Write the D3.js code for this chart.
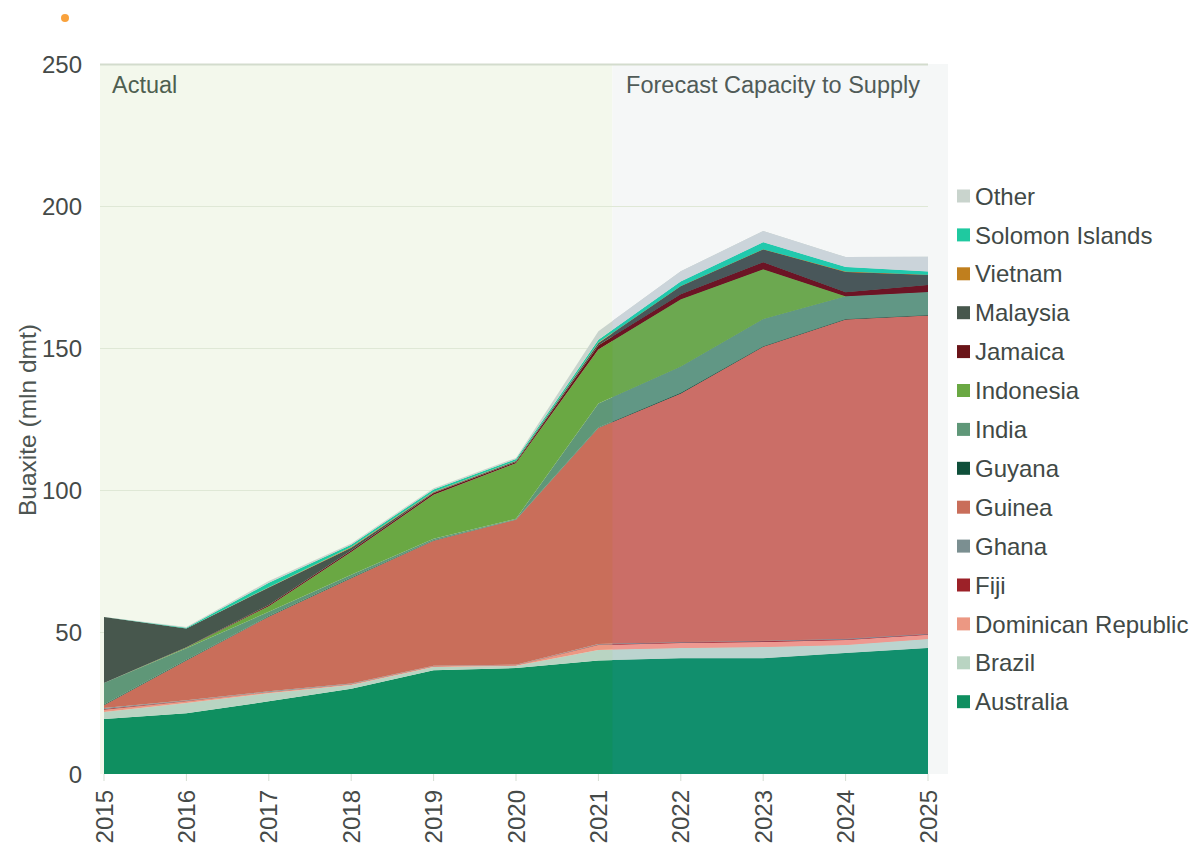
<!DOCTYPE html>
<html>
<head>
<meta charset="utf-8">
<script src="https://cdn.jsdelivr.net/npm/d3@7"></script>
<style>
  body { margin: 0; background: #fff; }
  svg { display: block; font-family: "Liberation Sans", Arial, sans-serif; }
</style>
</head>
<body>
<div id="chart"></div>
<script>
const years = [2015, 2016, 2017, 2018, 2019, 2020, 2021, 2022, 2023, 2024, 2025];

// stacked bottom to top
const australia = [19.4, 21.4, 25.6, 30.0, 36.5, 37.3, 40.0, 40.8, 40.8, 42.6, 44.4];
const brazil = [2.4, 3.6, 2.8, 1.3, 1.2, 0.8, 3.7, 3.6, 3.9, 2.8, 3.1];
const dominicanRepublic = [0.8, 0.6, 0.4, 0.3, 0.2, 0.2, 1.7, 1.7, 1.8, 1.8, 1.5];
const fiji = [0.3, 0.2, 0.1, 0.1, 0.1, 0.1, 0.2, 0.2, 0.2, 0.2, 0.2];
const ghana = [0.3, 0.2, 0.2, 0.2, 0.1, 0.1, 0.2, 0.2, 0.2, 0.2, 0.2];
const guinea = [1.0, 14.0, 26.3, 37.0, 44.0, 51.0, 76.0, 87.5, 103.5, 112.4, 112.0];
const guyana = [0.3, 0.2, 0.2, 0.3, 0.2, 0.1, 0.2, 0.2, 0.2, 0.2, 0.2];
const india = [7.5, 4.1, 1.5, 1.0, 0.5, 0.3, 8.5, 9.3, 9.6, 8.0, 8.1];
const indonesia = [0, 0.2, 2.0, 8.0, 15.5, 19.5, 19.0, 23.7, 17.5, 0, 0];
const jamaica = [0, 0.1, 0.4, 0.5, 0.6, 0.5, 1.5, 1.7, 2.5, 1.4, 2.5];
const malaysia = [23.3, 6.6, 6.2, 1.0, 0.3, 0.3, 0.8, 2.8, 4.5, 7.2, 3.5];
const vietnam = [0, 0, 0.1, 0.2, 0.2, 0.1, 0.1, 0.1, 0.1, 0.1, 0.1];
const solomonIslands = [0, 0.3, 1.5, 0.8, 0.8, 0.6, 1.0, 1.6, 2.4, 1.6, 1.1];
const other = [0, 0.3, 0.7, 0.5, 0.4, 0.4, 3.0, 3.6, 4.0, 3.5, 5.2];

const seriesNames = ['Australia', 'Brazil', 'Dominican Republic', 'Fiji', 'Ghana', 'Guinea',
  'Guyana', 'India', 'Indonesia', 'Jamaica', 'Malaysia', 'Vietnam', 'Solomon Islands', 'Other'];
const seriesValues = [australia, brazil, dominicanRepublic, fiji, ghana, guinea,
  guyana, india, indonesia, jamaica, malaysia, vietnam, solomonIslands, other];
const seriesColors = ['#0f8f60', '#b9d4c2', '#ec9883', '#9c2128', '#7b8f91', '#c96e5a',
  '#0f4f3a', '#5f9778', '#6aa843', '#6a1418', '#47574d', '#c07f1e', '#1fc9a0', '#c9d4cd'];

const yTicks = [0, 50, 100, 150, 200, 250];
const forecastStart = 2021.17;

const WIDTH = 1196;
const HEIGHT = 854;

const table = years.map((year, i) => {
  const row = { year };
  seriesNames.forEach((name, j) => { row[name] = seriesValues[j][i]; });
  return row;
});

// forecast zone shows the same colours a little cooler
const forecastColor = (c) => {
  const rgb = d3.rgb(c);
  rgb.r = rgb.r + 2;
  rgb.b = Math.min(255, rgb.b + 13);
  return rgb.formatHex();
};

const x = d3.scaleLinear().domain([2015, 2025]).range([104, 928]);
const y = d3.scaleLinear().domain([0, 250]).range([774, 64]);

const svg = d3.select('#chart').append('svg')
  .attr('width', WIDTH)
  .attr('height', HEIGHT);

svg.append('clipPath')
  .attr('id', 'forecast-clip')
  .append('rect')
  .attr('x', x(forecastStart)).attr('y', 0)
  .attr('width', x(2025) - x(forecastStart) + 1)
  .attr('height', HEIGHT);

// background zones
svg.append('rect')
  .attr('x', 100).attr('y', y(250))
  .attr('width', x(forecastStart) - 100)
  .attr('height', y(0) - y(250))
  .attr('fill', '#f3f8ec');
svg.append('rect')
  .attr('x', x(forecastStart)).attr('y', y(250))
  .attr('width', 948 - x(forecastStart))
  .attr('height', y(0) - y(250))
  .attr('fill', '#f5f7f7');

// gridlines
svg.append('g')
  .selectAll('line')
  .data(yTicks.filter((d) => d > 0))
  .join('line')
  .attr('x1', 100).attr('x2', x(2025))
  .attr('y1', (d) => y(d) + 0.5).attr('y2', (d) => y(d) + 0.5)
  .attr('stroke', (d) => d === 250 ? '#d3dccd' : '#dfe8d6')
  .attr('stroke-width', (d) => d === 250 ? 2 : 1);

const stack = d3.stack().keys(seriesNames);
const layers = stack(table);

const area = d3.area()
  .x((d) => x(d.data.year))
  .y0((d) => y(d[0]))
  .y1((d) => y(d[1]));

svg.append('g')
  .selectAll('path')
  .data(layers)
  .join('path')
  .attr('d', area)
  .attr('fill', (d, i) => seriesColors[i]);

svg.append('g')
  .attr('clip-path', 'url(#forecast-clip)')
  .selectAll('path')
  .data(layers)
  .join('path')
  .attr('d', area)
  .attr('fill', (d, i) => forecastColor(seriesColors[i]));

// y axis labels
svg.append('g')
  .selectAll('text')
  .data(yTicks)
  .join('text')
  .attr('x', 82)
  .attr('y', (d) => y(d))
  .attr('dy', '0.36em')
  .attr('text-anchor', 'end')
  .attr('font-size', 24)
  .attr('fill', '#454a48')
  .text((d) => d);

// x axis ticks and labels
const xAxis = svg.append('g');
xAxis.selectAll('line')
  .data(years)
  .join('line')
  .attr('x1', (d) => x(d)).attr('x2', (d) => x(d))
  .attr('y1', y(0)).attr('y2', y(0) + 7)
  .attr('stroke', '#d5ddd2');
xAxis.selectAll('text')
  .data(years)
  .join('text')
  .attr('transform', (d) => `translate(${x(d)}, 790) rotate(-90)`)
  .attr('dy', '0.36em')
  .attr('text-anchor', 'end')
  .attr('font-size', 24)
  .attr('fill', '#454a48')
  .text((d) => d);

svg.append('text')
  .attr('transform', 'translate(27, 420) rotate(-90)')
  .attr('dy', '0.36em')
  .attr('text-anchor', 'middle')
  .attr('font-size', 24.5)
  .attr('fill', '#4d5552')
  .text('Buaxite (mln dmt)');

svg.append('text')
  .attr('x', 112).attr('y', 93)
  .attr('font-size', 23.5)
  .attr('fill', '#4e5f50')
  .text('Actual');

svg.append('text')
  .attr('x', 920).attr('y', 93)
  .attr('text-anchor', 'end')
  .attr('font-size', 23.5)
  .attr('fill', '#505b58')
  .text('Forecast Capacity to Supply');

svg.append('circle')
  .attr('cx', 65).attr('cy', 18).attr('r', 4)
  .attr('fill', '#f9a23c');

// legend, top entry first
const legendNames = seriesNames.slice().reverse();
const legend = svg.append('g')
  .selectAll('g')
  .data(legendNames)
  .join('g')
  .attr('transform', (d, i) => `translate(957, ${196 + i * 38.9})`);
legend.append('rect')
  .attr('x', 0).attr('y', -6.5)
  .attr('width', 13).attr('height', 13)
  .attr('fill', (d) => seriesColors[seriesNames.indexOf(d)]);
legend.append('text')
  .attr('x', 18)
  .attr('dy', '0.36em')
  .attr('font-size', 24)
  .attr('fill', '#414946')
  .text((d) => d);
</script>
</body>
</html>
